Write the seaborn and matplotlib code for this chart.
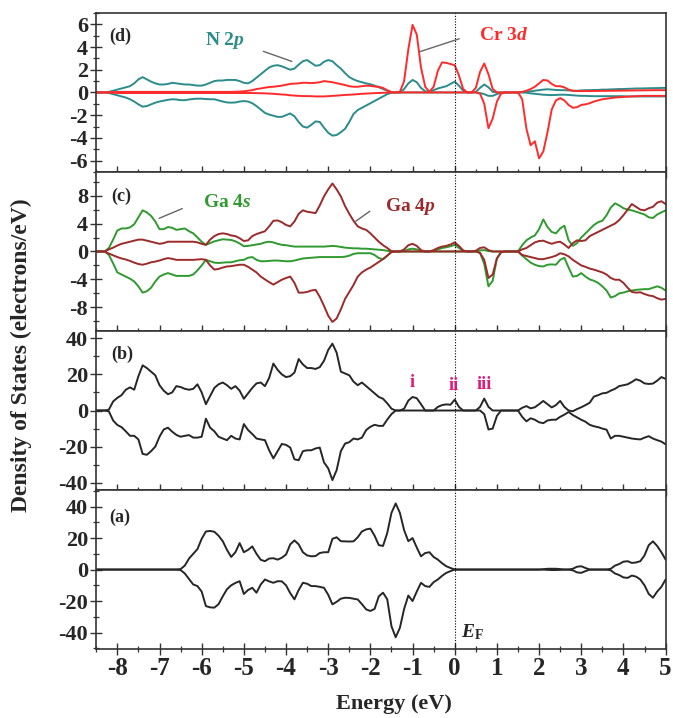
import numpy as np
import pandas as pd
import seaborn as sns
import matplotlib.pyplot as plt
from matplotlib.ticker import MultipleLocator

# energy grid (eV), 0.1 eV steps from -8.5 to 5.0
energy = np.round(np.arange(-8.5, 5.001, 0.1), 1)

# ---- panel (d): N 2p and Cr 3d partial DOS, spin up / spin down ----
n2p_up = [
    0, 0, 0, 0.05, 0.15, 0.25, 0.35, 0.45, 0.55, 0.8,
    1.15, 1.35, 1.15, 0.95, 0.8, 0.7, 0.7, 0.75, 0.85, 0.8,
    0.75, 0.7, 0.7, 0.65, 0.6, 0.6, 0.7, 0.85, 1.0, 1.05,
    1.05, 1.1, 1.1, 1.1, 1.0, 0.85, 0.8, 1.0, 1.3, 1.6,
    1.9, 2.2, 2.35, 2.4, 2.3, 2.15, 2.0, 2.1, 2.45, 2.75,
    2.85, 2.6, 2.35, 2.4, 2.7, 2.85, 2.75, 2.4, 2.1, 1.7,
    1.35, 1.15, 1.0, 0.9, 0.8, 0.72, 0.6, 0.45, 0.3, 0.15,
    0.03, 0, 0, 0.3, 0.8, 1.1, 0.9, 0.4, 0.1, 0.05,
    0.2, 0.35, 0.45, 0.55, 0.75, 0.95, 0.6, 0.15, 0, 0,
    0.05, 0.4, 0.7, 0.45, 0.05, 0, 0, 0, 0, 0,
    0, 0.02, 0.05, 0.1, 0.15, 0.2, 0.25, 0.28, 0.25, 0.22,
    0.2, 0.2, 0.18, 0.15, 0.15, 0.18, 0.2, 0.2, 0.22, 0.22,
    0.25, 0.25, 0.27, 0.28, 0.3, 0.3, 0.32, 0.33, 0.35, 0.35,
    0.36, 0.37, 0.38, 0.38, 0.4, 0.4]
n2p_dn = [
    0, 0, 0, -0.05, -0.15, -0.25, -0.35, -0.45, -0.6, -0.8,
    -1.05, -1.25, -1.2, -1.05, -0.9, -0.8, -0.72, -0.65, -0.6, -0.62,
    -0.68, -0.68, -0.62, -0.57, -0.55, -0.55, -0.58, -0.6, -0.6, -0.7,
    -0.8, -0.88, -0.9, -0.88, -0.8, -0.76, -0.8, -0.95, -1.2, -1.5,
    -1.8, -1.95, -2.05, -2.15, -2.15, -2.0, -1.85, -2.1, -2.6, -3.0,
    -3.1, -2.85, -2.55, -2.6, -3.1, -3.55, -3.8, -3.75, -3.5, -3.2,
    -2.6, -1.9, -1.55, -1.35, -1.15, -0.95, -0.75, -0.55, -0.35, -0.15,
    -0.03, 0, 0, 0, 0, 0, 0, 0, 0, 0,
    0, 0, 0, 0, 0, 0, 0, 0, 0, 0,
    0, -0.05, -0.15, -0.3, -0.3, -0.15, -0.03, 0, 0, 0,
    0, 0, -0.03, -0.08, -0.12, -0.16, -0.2, -0.22, -0.23, -0.22,
    -0.2, -0.2, -0.22, -0.25, -0.28, -0.3, -0.3, -0.32, -0.33, -0.33,
    -0.33, -0.33, -0.33, -0.33, -0.33, -0.33, -0.35, -0.35, -0.35, -0.35,
    -0.35, -0.35, -0.35, -0.35, -0.35, -0.35]
cr3d_up = [
    0, 0, 0, 0.02, 0.03, 0.04, 0.05, 0.05, 0.05, 0.05,
    0.05, 0.05, 0.05, 0.05, 0.05, 0.05, 0.05, 0.05, 0.05, 0.05,
    0.05, 0.05, 0.05, 0.05, 0.05, 0.05, 0.05, 0.05, 0.05, 0.05,
    0.05, 0.05, 0.05, 0.06, 0.08, 0.1, 0.15, 0.2, 0.3, 0.35,
    0.42, 0.48, 0.5, 0.55, 0.6, 0.68, 0.75, 0.78, 0.8, 0.85,
    0.85, 0.82, 0.85, 0.9, 1.0, 0.95, 0.9, 0.82, 0.75, 0.65,
    0.55, 0.5, 0.5, 0.55, 0.6, 0.58, 0.52, 0.5, 0.4, 0.2,
    0.03, 0, 0.05, 1.0, 3.8, 5.95, 5.1, 2.2, 0.5, 0.05,
    0.5, 1.9, 2.65, 2.6, 2.5, 2.4, 1.5, 0.3, 0, 0,
    0.4, 1.8, 2.55, 1.6, 0.3, 0, 0, 0, 0, 0,
    0, 0.05, 0.15, 0.3, 0.5, 0.8, 1.1, 1.05, 0.75, 0.55,
    0.55, 0.45, 0.25, 0.15, 0.12, 0.12, 0.12, 0.12, 0.13, 0.13,
    0.14, 0.14, 0.15, 0.15, 0.16, 0.16, 0.17, 0.17, 0.18, 0.18,
    0.19, 0.19, 0.2, 0.2, 0.2, 0.2]
cr3d_dn = [
    0, 0, 0, -0.02, -0.03, -0.04, -0.05, -0.05, -0.05, -0.05,
    -0.05, -0.05, -0.05, -0.05, -0.05, -0.05, -0.05, -0.05, -0.05, -0.05,
    -0.05, -0.05, -0.05, -0.05, -0.05, -0.05, -0.05, -0.05, -0.05, -0.05,
    -0.05, -0.05, -0.05, -0.05, -0.05, -0.05, -0.05, -0.05, -0.06, -0.07,
    -0.08, -0.1, -0.12, -0.15, -0.18, -0.2, -0.25, -0.28, -0.3, -0.32,
    -0.32, -0.33, -0.35, -0.35, -0.35, -0.33, -0.3, -0.28, -0.25, -0.22,
    -0.2, -0.18, -0.15, -0.12, -0.1, -0.08, -0.06, -0.05, -0.03, -0.02,
    0, 0, 0, 0, 0, 0, 0, 0, 0, 0,
    0, 0, 0, 0, 0, 0, 0, 0, 0, 0,
    0, -0.1, -1.0, -3.15, -2.3, -0.8, -0.1, 0, 0, 0,
    0, -0.6, -3.2, -4.65, -4.3, -5.8, -5.2, -3.5, -1.5, -0.7,
    -0.5, -0.7, -1.1, -1.35, -1.3, -1.1, -1.05, -0.95, -0.8, -0.7,
    -0.6, -0.55, -0.5, -0.45, -0.42, -0.4, -0.37, -0.35, -0.33, -0.32,
    -0.3, -0.3, -0.3, -0.3, -0.3, -0.3]

# ---- panel (c): Ga 4s and Ga 4p ----
ga4s_up = [
    0, 0, 0, 0.5, 1.7, 3.0, 3.3, 3.3, 3.45, 3.9,
    4.9, 5.9, 5.6, 5.1, 4.3, 3.2, 3.2, 3.5, 3.4, 3.1,
    3.2, 3.3, 2.9, 2.6, 2.0, 1.4, 0.95, 1.2, 1.45, 1.6,
    1.75, 1.7, 1.65, 1.45, 1.15, 0.75, 0.8, 0.9, 1.0, 1.1,
    1.3, 1.4, 1.3, 1.1, 0.95, 0.9, 0.8, 0.7, 0.7, 0.7,
    0.7, 0.7, 0.7, 0.7, 0.7, 0.75, 0.8, 0.75, 0.65, 0.55,
    0.5, 0.45, 0.45, 0.4, 0.4, 0.35, 0.3, 0.25, 0.2, 0.1,
    0, 0, 0, 0.05, 0.3, 0.4, 0.3, 0.05, 0, 0,
    0.1, 0.3, 0.5, 0.6, 0.75, 0.95, 0.5, 0.1, 0, 0,
    0, 0.15, 0.2, 0.05, 0, 0, 0, 0, 0, 0,
    0, 0.9, 1.6, 2.0, 2.3, 3.2, 4.6, 3.5, 2.8, 2.6,
    3.3, 3.7, 1.6, 0.8, 1.2, 2.0, 2.6, 3.2, 3.8, 4.2,
    4.4, 5.2, 6.3, 6.9, 6.6, 6.2, 6.0, 5.9, 5.7, 5.5,
    5.3, 4.9, 4.8, 5.3, 5.6, 5.9]
ga4s_dn = [
    0, 0, 0, -0.5, -1.7, -3.0, -3.3, -3.6, -3.9, -4.3,
    -5.0, -5.9, -5.7, -5.2, -4.3, -3.6, -3.3, -3.1, -3.3, -3.5,
    -3.5, -3.5, -3.5, -3.3, -2.7, -2.0, -1.2, -1.4, -1.6, -1.65,
    -1.6, -1.55, -1.55, -1.4, -1.25, -1.2, -0.9, -0.8, -1.2, -1.4,
    -1.4, -1.35, -1.3, -1.3, -1.35, -1.4, -1.4, -1.3, -1.15, -1.0,
    -0.95, -0.9, -0.85, -0.8, -0.8, -0.8, -0.8, -0.8, -0.8, -0.75,
    -0.6, -0.35, -0.25, -0.25, -0.25, -0.25, -0.5, -0.95, -1.1, -0.6,
    0, 0, 0, 0, 0, 0, 0, 0, 0, 0,
    0, 0, 0, 0, 0, 0, 0, 0, 0, 0,
    0, -0.2, -1.8, -5.0, -4.2, -1.0, -0.1, 0, 0, 0,
    0, -0.6, -1.1, -1.6, -1.9, -2.1, -2.15, -1.9, -1.85, -1.9,
    -1.2, -0.9, -2.3, -3.6, -3.5, -3.1, -3.6, -4.0, -4.2, -4.5,
    -5.0, -5.6, -6.6, -6.4, -6.0, -5.9, -5.7, -5.6, -5.5, -5.45,
    -5.4, -5.4, -5.2, -5.0, -5.2, -5.6]
ga4p_up = [
    0, 0, 0, 0.3, 0.55, 0.85, 1.1, 1.25, 1.4, 1.55,
    1.7, 1.7, 1.55, 1.4, 1.25, 1.1, 1.2, 1.4, 1.4, 1.4,
    1.4, 1.4, 1.4, 1.4, 1.3, 1.1, 0.95, 1.7, 2.2, 2.5,
    2.6, 2.5, 2.3, 2.2, 1.9, 1.5, 1.6, 2.2, 2.5, 2.7,
    2.9, 3.6, 4.4, 4.45, 4.2, 3.8, 3.6, 4.3, 5.4, 5.9,
    5.7, 5.6, 5.5, 6.6, 7.9, 8.9, 9.75, 8.9, 7.9, 6.5,
    5.4, 4.4, 3.6, 3.3, 3.1, 2.6, 2.0, 1.4, 0.9, 0.5,
    0.05, 0, 0, 0.3, 0.9, 1.1, 0.8, 0.2, 0, 0,
    0.2, 0.5, 0.7, 0.8, 1.0, 1.3, 0.8, 0.15, 0, 0,
    0.1, 0.5, 0.6, 0.2, 0, 0, 0, 0, 0, 0,
    0, 0.3, 0.5, 0.9, 1.3, 1.5, 1.55, 1.3, 1.1, 1.3,
    1.4, 1.0, 0.5, 1.2, 1.6, 1.5, 1.6, 2.2, 2.5, 2.8,
    3.1, 3.4, 3.7, 4.0, 4.5, 5.2, 6.0, 6.8, 6.4, 6.0,
    5.9, 6.2, 6.4, 7.0, 7.2, 6.8]
ga4p_dn = [
    0, 0, 0, -0.3, -0.55, -0.8, -1.0, -1.15, -1.35, -1.6,
    -1.8, -1.9, -1.75, -1.55, -1.45, -1.3, -1.1, -0.95, -1.05, -1.2,
    -1.2, -1.2, -1.2, -1.2, -1.15, -1.1, -1.2, -2.0, -2.6, -2.5,
    -2.3, -2.15, -2.1, -2.0, -1.9, -1.9, -2.2, -2.6, -3.0, -3.6,
    -4.0, -4.4, -4.75, -4.4, -4.05, -3.8, -3.6, -4.5, -5.9, -5.9,
    -5.8, -5.6, -5.5, -6.5, -7.8, -9.2, -10.1, -9.6, -8.3, -6.8,
    -5.8, -4.8, -3.6, -3.0, -2.6, -2.3, -1.9, -1.5, -1.1, -0.6,
    -0.1, 0, 0, 0, 0, 0, 0, 0, 0, 0,
    0, 0, 0, 0, 0, 0, 0, 0, 0, 0,
    0, -0.2, -1.2, -3.8, -3.3, -1.0, -0.1, 0, 0, 0,
    0, -0.5, -0.65, -0.8, -0.95, -1.1, -1.1, -0.95, -0.8, -0.6,
    -0.25, -0.4, -0.7, -1.2, -1.6, -2.0, -2.2, -2.45, -2.6, -2.8,
    -3.0, -3.3, -3.8, -4.05, -4.05, -4.5, -5.2, -5.8, -5.9, -5.85,
    -6.1, -6.3, -6.4, -6.7, -6.9, -6.8]

# ---- panel (b): total DOS, Cr-doped GaN ----
tot_b_up = [
    0, 0, 0, 0.5, 5.0, 7.0, 8.5, 11.5, 12.8, 11.5,
    19.0, 25.0, 23.5, 21.5, 19.5, 14.0, 11.0, 9.0, 10.0, 13.5,
    13.0, 12.0, 11.5, 12.0, 14.5, 10.0, 3.5, 8.0, 12.5, 14.5,
    15.5, 14.0, 12.0, 13.5, 11.0, 6.5, 9.5, 12.5, 15.0, 15.5,
    13.5, 18.0, 26.0, 22.5, 20.0, 18.5, 19.0, 21.0, 28.5, 25.5,
    23.5, 23.5, 23.0, 24.0, 27.5, 33.5, 37.0, 32.0, 21.5, 20.5,
    19.5, 16.0, 14.0, 15.5, 13.5, 11.5, 9.5, 7.5, 6.5, 4.0,
    1.0, 0, 0, 1.0, 5.5, 7.5, 6.8, 3.5, 0, 0,
    0, 2.0, 3.0, 3.4, 3.2, 6.0, 2.0, 0, 0, 0,
    0, 2.0, 6.6, 2.0, 0, 0, 0, 0, 0, 0,
    0, 1.5, 2.45, 1.2, 1.8, 3.5, 5.3, 3.5, 1.7, 3.0,
    5.3, 2.0, 0, -0.4, 0.8, 1.8, 3.0, 4.3, 7.7, 8.5,
    9.5, 9.8, 11.0, 12.0, 13.5, 14.0, 14.5, 15.8, 17.3, 16.5,
    15.0, 14.7, 14.9, 16.5, 18.5, 17.5]
tot_b_dn = [
    0, 0, 0, -0.5, -5.5, -8.0, -9.2, -11.5, -14.0, -14.0,
    -16.0, -24.0, -24.5, -22.5, -20.0, -14.5, -10.5, -9.5, -11.7, -13.5,
    -14.5, -14.0, -13.6, -15.0, -15.0, -14.5, -4.5, -9.5, -11.5, -14.5,
    -15.5, -16.4, -14.0, -15.5, -16.0, -7.5, -10.8, -13.0, -15.5, -16.0,
    -16.4, -22.0, -26.5, -22.5, -18.5, -19.0, -20.5, -27.0, -27.5, -22.5,
    -22.0, -22.0, -21.0, -20.5, -28.7, -32.0, -38.5, -33.0, -22.5, -18.3,
    -17.5, -15.5, -16.0, -15.0, -10.8, -9.0, -7.9, -8.5, -8.5, -5.0,
    -2.0, 0, 0, 0, 0, 0, 0, 0, 0, 0,
    0, 0, 0, 0, 0, 0, 0, 0, 0, 0,
    0, 0, -2.0, -10.5, -10.0, -3.0, 0, 0, 0, 0,
    0, -3.5, -6.0, -4.3, -5.1, -6.5, -7.0, -5.5, -5.1, -5.1,
    -3.5, -2.3, -0.8, -2.5, -3.8, -5.1, -6.2, -7.9, -8.7, -9.2,
    -10.0, -10.6, -15.5, -14.0, -14.0, -14.5, -15.0, -15.5, -15.8, -16.0,
    -15.0, -14.2, -15.5, -16.4, -17.2, -18.7]

# ---- panel (a): total DOS, pure GaN ----
tot_a_up = [
    0, 0, 0, 0, 0, 0, 0, 0, 0, 0,
    0, 0, 0, 0, 0, 0, 0, 0, 0, 0,
    0.3, 2.5, 7.0, 10.0, 13.0, 19.5, 24.2, 24.5, 24.0, 21.5,
    18.0, 12.5, 8.0, 11.0, 16.8, 11.0, 12.5, 14.7, 10.0, 6.2,
    5.3, 7.0, 7.2, 6.3, 7.5, 9.5, 16.0, 18.5, 16.0, 11.0,
    9.0, 8.4, 8.6, 10.5, 11.0, 11.0, 19.5, 20.5, 18.0, 17.9,
    17.8, 17.9, 20.5, 24.2, 25.5, 26.0, 21.5, 15.5, 15.0, 23.2,
    36.0, 42.0, 36.0, 25.0, 18.0, 20.0, 14.0, 8.4, 10.5, 11.0,
    8.0, 6.3, 4.0, 2.1, 1.0, 0, 0, 0, 0, 0,
    0, 0, 0, 0, 0, 0, 0, 0, 0, 0,
    0, 0, 0, 0, 0, 0, 0.2, 0.5, 0.5, 0.5,
    0.3, 0, 0, 0.5, 1.8, 2.1, 1.0, 0, 0, 0,
    0, 0, 0.5, 2.5, 3.5, 5.0, 5.3, 4.2, 4.5, 5.3,
    9.0, 15.5, 17.9, 15.0, 11.0, 6.3]
tot_a_dn = [
    0, 0, 0, 0, 0, 0, 0, 0, 0, 0,
    0, 0, 0, 0, 0, 0, 0, 0, 0, 0,
    -0.3, -2.5, -6.0, -9.5, -10.5, -14.0, -23.2, -24.0, -24.2, -22.0,
    -17.0, -12.5, -10.0, -8.5, -7.4, -15.5, -13.0, -11.6, -14.7, -9.5,
    -6.3, -7.5, -8.4, -7.4, -7.5, -10.0, -15.0, -18.9, -13.0, -8.4,
    -9.0, -10.5, -10.5, -11.0, -11.6, -16.0, -22.1, -20.5, -18.5, -17.9,
    -18.0, -18.5, -19.0, -22.0, -25.3, -26.3, -25.0, -17.0, -14.7, -18.9,
    -36.0, -43.0, -37.0, -25.0, -16.5, -20.0, -14.0, -8.4, -10.5, -11.0,
    -8.0, -6.3, -4.0, -2.1, -1.0, 0, 0, 0, 0, 0,
    0, 0, 0, 0, 0, 0, 0, 0, 0, 0,
    0, 0, 0, 0, 0, 0, 0, -0.2, -0.3, -0.3,
    -0.2, 0, 0, -0.5, -1.8, -2.1, -1.0, 0, 0, 0,
    0, 0, -0.5, -2.5, -3.5, -5.0, -5.3, -3.8, -4.5, -6.3,
    -10.0, -15.5, -17.9, -14.0, -11.0, -6.3]

for arr in [n2p_up, n2p_dn, cr3d_up, cr3d_dn, ga4s_up, ga4s_dn, ga4p_up,
            ga4p_dn, tot_b_up, tot_b_dn, tot_a_up, tot_a_dn]:
    assert len(arr) == len(energy), len(arr)


def make_df(curves):
    rows = []
    for name, spin, vals in curves:
        for e, v in zip(energy, vals):
            rows.append({"energy": e, "dos": v, "orbital": name, "spin": spin})
    return pd.DataFrame(rows)


sns.set_style("ticks")
plt.rcParams['font.family'] = ['Liberation Serif', 'DejaVu Serif']
plt.rcParams['font.weight'] = 'bold'
plt.rcParams['axes.unicode_minus'] = False
plt.rcParams['mathtext.fontset'] = 'custom'
plt.rcParams['mathtext.rm'] = 'Liberation Serif:bold'
plt.rcParams['mathtext.it'] = 'Liberation Serif:italic:bold'
plt.rcParams['mathtext.bf'] = 'Liberation Serif:bold'

fig, axes = plt.subplots(4, 1, sharex=True, figsize=(6.73, 7.18), dpi=100,
                         gridspec_kw=dict(hspace=0))
fig.subplots_adjust(left=0.143, right=0.989, top=0.982, bottom=0.096)
ax_d, ax_c, ax_b, ax_a = axes

teal, red, green, brown, black = "#2b8c8c", "#ff2b2b", "#2f9a2f", "#9c2a2a", "#262626"

panels = [
    (ax_d, [("N 2p", "up", n2p_up), ("N 2p", "dn", n2p_dn),
            ("Cr 3d", "up", cr3d_up), ("Cr 3d", "dn", cr3d_dn)],
     {"N 2p": teal, "Cr 3d": red}),
    (ax_c, [("Ga 4s", "up", ga4s_up), ("Ga 4s", "dn", ga4s_dn),
            ("Ga 4p", "up", ga4p_up), ("Ga 4p", "dn", ga4p_dn)],
     {"Ga 4s": green, "Ga 4p": brown}),
    (ax_b, [("total", "up", tot_b_up), ("total", "dn", tot_b_dn)],
     {"total": black}),
    (ax_a, [("total", "up", tot_a_up), ("total", "dn", tot_a_dn)],
     {"total": black}),
]

for ax, curves, pal in panels:
    df = make_df(curves)
    sns.lineplot(data=df, x="energy", y="dos", hue="orbital", units="spin",
                 estimator=None, palette=pal, lw=1.4, legend=False,
                 sort=False, ax=ax)
    ax.axvline(0, color="black", ls=(0, (1, 1.5)), lw=0.8)
    ax.set_xlabel("")
    ax.set_ylabel("")

# axis ranges and ticks
limits = [(ax_d, 7, 2, 1), (ax_c, 11.4, 4, 2), (ax_b, 44, 20, 10), (ax_a, 50.5, 20, 10)]
for ax, lim, major, minor in limits:
    ax.set_ylim(-lim, lim)
    ax.yaxis.set_major_locator(MultipleLocator(major))
    ax.yaxis.set_minor_locator(MultipleLocator(minor))
    ax.set_xlim(-8.5, 5.0)
    ax.xaxis.set_major_locator(MultipleLocator(1))
    ax.xaxis.set_minor_locator(MultipleLocator(0.5))
    ax.tick_params(which="major", direction="inout", length=8, width=1.0,
                   labelsize=16, pad=2, top=False, right=False, color="#333333")
    ax.tick_params(which="minor", direction="inout", length=4, width=0.9,
                   top=False, right=False, color="#333333")
    for sp in ax.spines.values():
        sp.set_linewidth(1.2)
        sp.set_color("#333333")
ax_a.tick_params(axis="x", labelsize=18, pad=2)

# panel tags
tag_kw = dict(fontsize=13, fontweight="bold", ha="left", va="center")
ax_d.text(-8.2, 4.9, "(d)", **tag_kw)
ax_c.text(-8.15, 7.9, "(c)", **tag_kw)
ax_b.text(-8.15, 31, "(b)", **tag_kw)
ax_a.text(-8.2, 33, "(a)", **tag_kw)

# orbital labels with leader lines
lead = dict(arrowstyle="-", color="#666666", lw=1.0)
ax_d.text(-5.45, 4.55, "N 2$\\mathit{p}$", color=teal, fontsize=14,
          ha="center", va="center")
ax_d.annotate("", xy=(-3.8, 2.65), xytext=(-4.6, 3.7), arrowprops=lead)
ax_d.text(1.15, 5.0, "Cr 3$\\mathit{d}$", color=red, fontsize=14,
          ha="center", va="center")
ax_d.annotate("", xy=(-0.9, 3.5), xytext=(0.17, 4.8), arrowprops=lead)
ax_c.text(-5.4, 7.0, "Ga 4$\\mathit{s}$", color=green, fontsize=14,
          ha="center", va="center")
ax_c.annotate("", xy=(-7.07, 4.6), xytext=(-6.4, 6.3), arrowprops=lead)
ax_c.text(-1.05, 6.4, "Ga 4$\\mathit{p}$", color=brown, fontsize=14,
          ha="center", va="center")
ax_c.annotate("", xy=(-2.4, 4.1), xytext=(-1.96, 6.0), arrowprops=lead)

# defect state markers
pink = "#e0197d"
for xpos, ypos, lab in [(-1.0, 15.7, "i"), (-0.03, 13.8, "ii"), (0.71, 14.2, "iii")]:
    ax_b.text(xpos, ypos, lab, color=pink, fontsize=13, ha="center", va="center")

ax_a.text(0.15, -40, "$E_{\\mathrm{F}}$", fontsize=14, ha="left", va="center")

fig.text(0.032, 0.505, "Density of States (electrons/eV)", rotation=90,
         fontsize=17, fontweight="bold", ha="center", va="center")
fig.text(0.585, 0.019, "Energy (eV)", fontsize=16, fontweight="bold",
         ha="center", va="center")

fig.savefig("out.png", dpi=100)
